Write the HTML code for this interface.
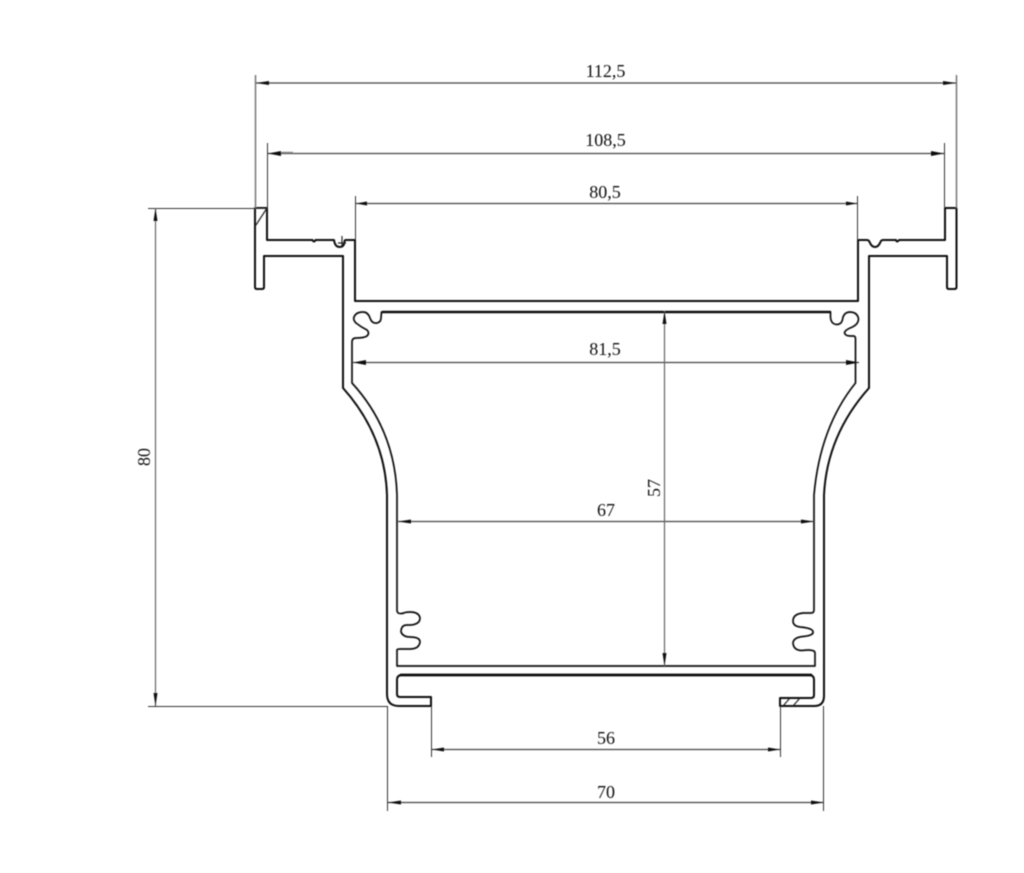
<!DOCTYPE html>
<html>
<head>
<meta charset="utf-8">
<style>
html,body{margin:0;padding:0;background:#fff;}
svg{display:block;}
text{font-family:"Liberation Serif",serif;font-size:18px;fill:#111;}
</style>
</head>
<body>
<svg width="1024" height="873" viewBox="0 0 1024 873" xmlns="http://www.w3.org/2000/svg">
<defs><filter id="b" x="-5%" y="-5%" width="110%" height="110%"><feGaussianBlur stdDeviation="0.5"/></filter></defs>
<g filter="url(#b)">
<!-- profile -->
<g fill="none" stroke="#111" stroke-width="2" stroke-linejoin="round">
<!-- upper outer channel with flanges -->
<path d="M255 208H267V240H312.500q1.500 3 3 0H334q1 7 5.500 7t5-5q0-2 1-2H355V301H858V240H867q2 0 3 3q2 4 5 4t5-4q1-3 3-3H896q1 3 3 0H945V208H956.500V287q0 2-2 2H949q-2 0-2-2V256H869V388Q827 435 824 495V696q0 10-10 10H780V698H811q3 0 3-3V680q0-5-5-5H402q-5 0-5 5V694q0 3 3 3H431V706H399q-12 0-12-12V495Q385 435 343 388V256H264V287q0 2-2 2H257q-2 0-2-2Z"/>
<!-- inner cavity -->
<path stroke-width="1.700" d="M381.500 312H830.500v5q0.500 7 6 7.500q5 0 6-5q1-7 7-7.500q8 0 9 7q0 5-6 8q-8 3-8 6q1 3 6 3h3q2 0 2 3V383Q820 427 814 495V610q0 3-3 3h-8q-10 1-10 8q0 5 7 6q12 1 13 4.500q1 4-10 5q-10 1-10 7q1 7 9 7q8-1 10 0q3 0 3 3V666H397V650q0-1 3-1h10q9 0 10-7q0-5-10-5q-7 0-9-5q0-7 6-7h4q9-1 9-7q-1-6-10-6q-5 0-6 1q-7 2-7-3V495Q395 430 352 383V342q0-4 4-4q8 0 11-2q3-3 0-6q-6-3-11-7q-3-3-2-6q2-5 9-5q5 0 7 6q2 6 7 5q4-1 4-5Z"/>
<path d="M382 312H831" stroke-width="2.500"/>
<path d="M400 675H812" stroke-width="2.800"/>
</g>
<!-- hatching -->
<g stroke="#222" stroke-width="1.200" fill="none">
<path d="M267 208L256 225M342 236V246M338 243H346M790 698L783 706M800 698L793 706"/>
</g>
<!-- ext lines -->
<g stroke="#333" stroke-width="1" fill="none">
<path d="M255.500 75V208" stroke="#777" stroke-width="1.500"/>
<path d="M956.500 75V208" stroke="#777" stroke-width="1.500"/>
<path d="M267.500 143V208M944.500 143V208"/>
<path d="M355.500 196V240M857.500 196V240"/>
<path d="M148 208.500H267"/>
<path d="M148 706.500H388"/>
<path d="M387.500 706V811M823.500 706V811"/>
<path d="M431.500 706V757M780.500 706V757"/>
</g>
<!-- dim lines -->
<g stroke="#444" stroke-width="1.200" fill="none">
<path d="M256 83H956"/>
<path d="M268 153.500H944"/>
<path d="M356 203.500H857"/>
<path d="M353 362.500H859"/>
<path d="M398 521.500H814"/>
<path d="M432 749.500H780"/>
<path d="M388 802.500H824"/>
<path d="M155.500 208V706" stroke="#666"/>
<path d="M664.500 311V666" stroke="#666"/>
<path d="M281 152.500H293" stroke="#888" stroke-width="1.500"/>
</g>
<!-- arrows -->
<g fill="#111">
<path d="M256 83l13-2v4zM956 83l-13-2v4z"/>
<path d="M268 153.500l13-2.500v5zM944 153.500l-13-2.500v5z"/>
<path d="M356 203.500l11-2v4zM857 203.500l-11-2v4z"/>
<path d="M353 362.500l13-2.500v5zM859 362.500l-13-2.500v5z"/>
<path d="M398 521.500l13-2v4zM814 521.500l-13-2v4z"/>
<path d="M432 749.500l12-2v4zM780 749.500l-12-2v4z"/>
<path d="M388 802.500l13-2v4zM824 802.500l-13-2v4z"/>
<path d="M155.500 208l-2 13h4zM155.500 706l-2-13h4z"/>
<path d="M664.500 311l-2 13h4zM664.500 666l-2-13h4z"/>
</g>
<!-- labels -->
<text x="605.500" y="77" text-anchor="middle">112,5</text>
<text x="605.500" y="146" text-anchor="middle">108,5</text>
<text x="605" y="198" text-anchor="middle">80,5</text>
<text x="605" y="355" text-anchor="middle">81,5</text>
<text x="606" y="516" text-anchor="middle">67</text>
<text x="606" y="744" text-anchor="middle">56</text>
<text x="606" y="798" text-anchor="middle">70</text>
<text transform="translate(150 457) rotate(-90)" text-anchor="middle">80</text>
<text transform="translate(660 488) rotate(-90)" text-anchor="middle">57</text>
</g>
</svg>
</body>
</html>
